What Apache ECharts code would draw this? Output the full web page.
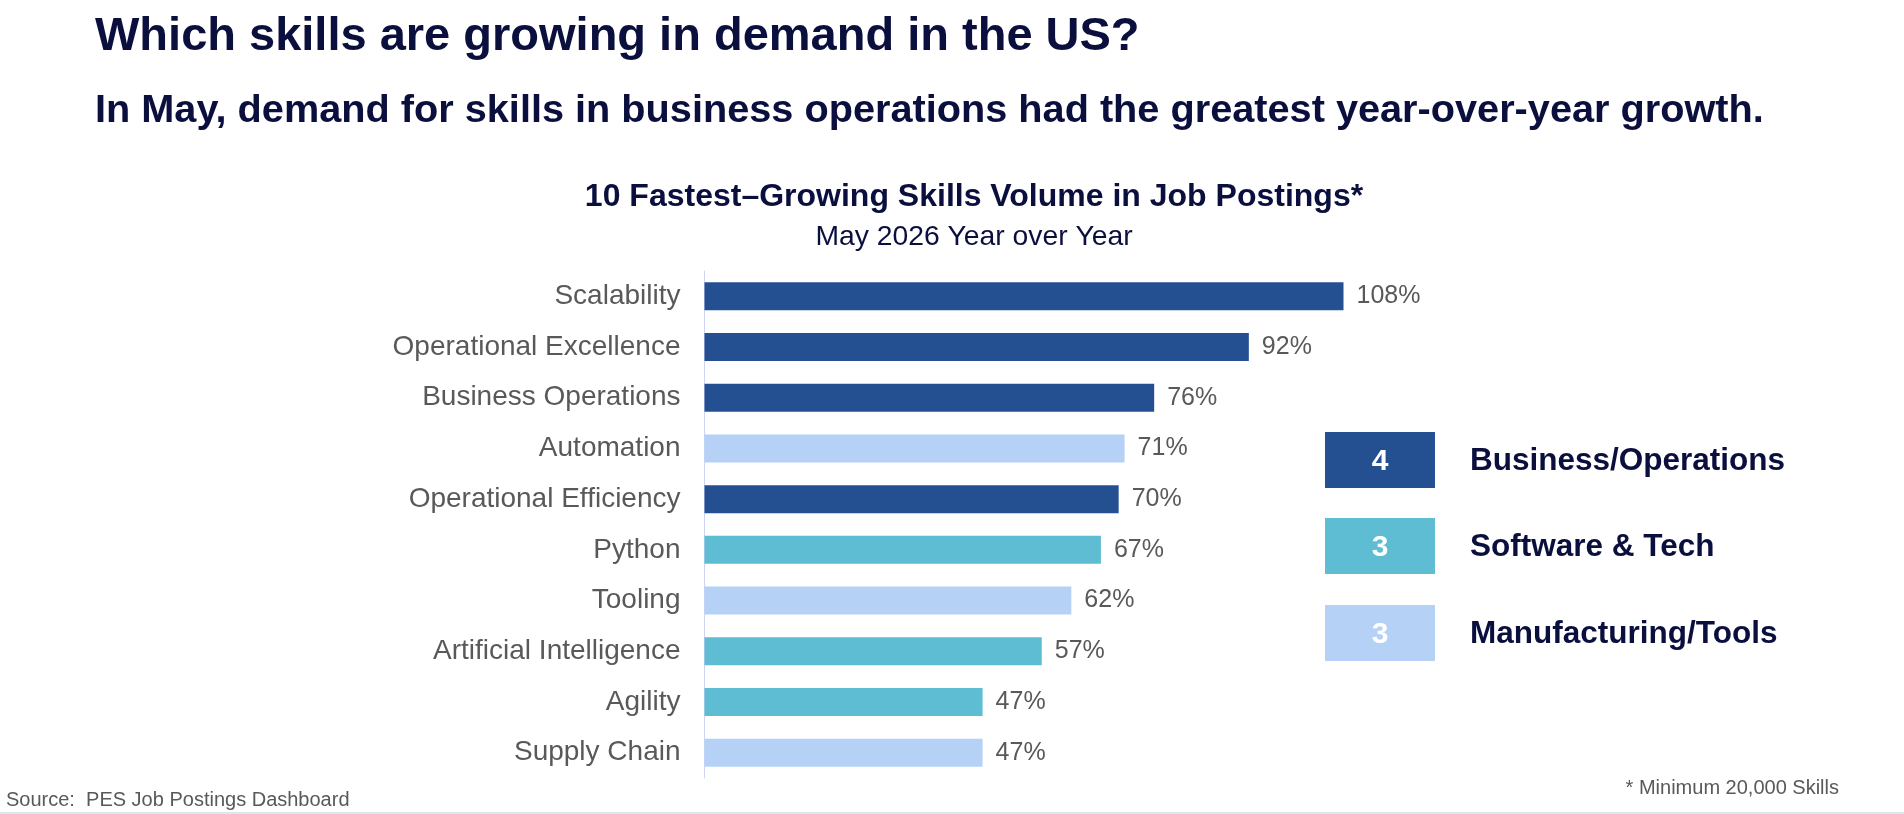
<!DOCTYPE html>
<html>
<head>
<meta charset="utf-8">
<script src="https://cdn.jsdelivr.net/npm/echarts@6/dist/echarts.min.js"></script>
<style>
html,body{margin:0;padding:0;background:#fff;}
#chart{width:1904px;height:814px;}
</style>
</head>
<body>
<div id="chart"></div>
<script>
const skills = ['Scalability','Operational Excellence','Business Operations','Automation','Operational Efficiency','Python','Tooling','Artificial Intelligence','Agility','Supply Chain'];
const growth = [108,92,76,71,70,67,62,57,47,47];
const skillGroup = ['Business/Operations','Business/Operations','Business/Operations','Manufacturing/Tools','Business/Operations','Software & Tech','Manufacturing/Tools','Software & Tech','Software & Tech','Manufacturing/Tools'];
const groupNames = ['Business/Operations','Software & Tech','Manufacturing/Tools'];

const groupColors = {'Business/Operations':'#245092','Software & Tech':'#5ebcd3','Manufacturing/Tools':'#b5d2f6'};
const FONT = '"Liberation Sans", Arial, Helvetica, sans-serif';
const NAVY = '#0b0f3e';

const chart = echarts.init(document.getElementById('chart'));

const legendTops = [432, 518, 605];
const legendGraphics = [];
groupNames.forEach((g, i) => {
  const count = skillGroup.filter(s => s === g).length;
  legendGraphics.push({
    type: 'rect', left: 1325, top: legendTops[i],
    shape: {width: 110, height: 56},
    style: {fill: groupColors[g]}
  });
  legendGraphics.push({
    type: 'text', x: 1380, y: legendTops[i] + 29.5,
    style: {text: String(count), fill: '#ffffff', font: 'bold 30px ' + FONT, textAlign: 'center', textVerticalAlign: 'middle'}
  });
  legendGraphics.push({
    type: 'text', x: 1470, y: legendTops[i] + 29.5,
    style: {text: g, fill: NAVY, font: 'bold 31.5px ' + FONT, textAlign: 'left', textVerticalAlign: 'middle'}
  });
});

const option = {
  animation: false,
  backgroundColor: '#ffffff',
  textStyle: {fontFamily: FONT},
  grid: {left: 704.5, top: 271, height: 507, width: 710, containLabel: false},
  xAxis: {type: 'value', min: 0, max: 120, show: false},
  yAxis: {
    type: 'category', data: skills, inverse: true,
    axisLine: {show: true, lineStyle: {color: '#cdd4f4', width: 1}},
    axisTick: {show: false},
    axisLabel: {fontSize: 28, color: '#595959', margin: 24, fontFamily: FONT}
  },
  series: [{
    type: 'bar',
    barWidth: 28,
    data: growth.map((v, i) => ({value: v, itemStyle: {color: groupColors[skillGroup[i]]}})),
    label: {show: true, position: 'right', distance: 13, formatter: '{c}%', fontSize: 25, color: '#595959', fontFamily: FONT}
  }],
  graphic: [
    {type: 'text', x: 95, y: 37, style: {text: 'Which skills are growing in demand in the US?', fill: NAVY, font: 'bold 47px ' + FONT, textVerticalAlign: 'middle'}},
    {type: 'text', x: 95, y: 111, style: {text: 'In May, demand for skills in business operations had the greatest year-over-year growth.', fill: NAVY, font: 'bold 39.7px ' + FONT, textVerticalAlign: 'middle'}},
    {type: 'text', x: 974, y: 197.5, style: {text: '10 Fastest\u2013Growing Skills Volume in Job Postings*', fill: NAVY, font: 'bold 32px ' + FONT, textAlign: 'center', textVerticalAlign: 'middle'}},
    {type: 'text', x: 974, y: 237, style: {text: 'May 2026 Year over Year', fill: NAVY, font: '28.3px ' + FONT, textAlign: 'center', textVerticalAlign: 'middle'}},
    {type: 'text', x: 6, y: 800, style: {text: 'Source:  PES Job Postings Dashboard', fill: '#595959', font: '20px ' + FONT, textVerticalAlign: 'middle'}},
    {type: 'text', x: 1839, y: 788.5, style: {text: '* Minimum 20,000 Skills', fill: '#595959', font: '20px ' + FONT, textAlign: 'right', textVerticalAlign: 'middle'}},
    {type: 'rect', left: 0, top: 812, shape: {width: 1904, height: 2}, style: {fill: '#dce7f3'}}
  ].concat(legendGraphics)
};
chart.setOption(option);
</script>
</body>
</html>
